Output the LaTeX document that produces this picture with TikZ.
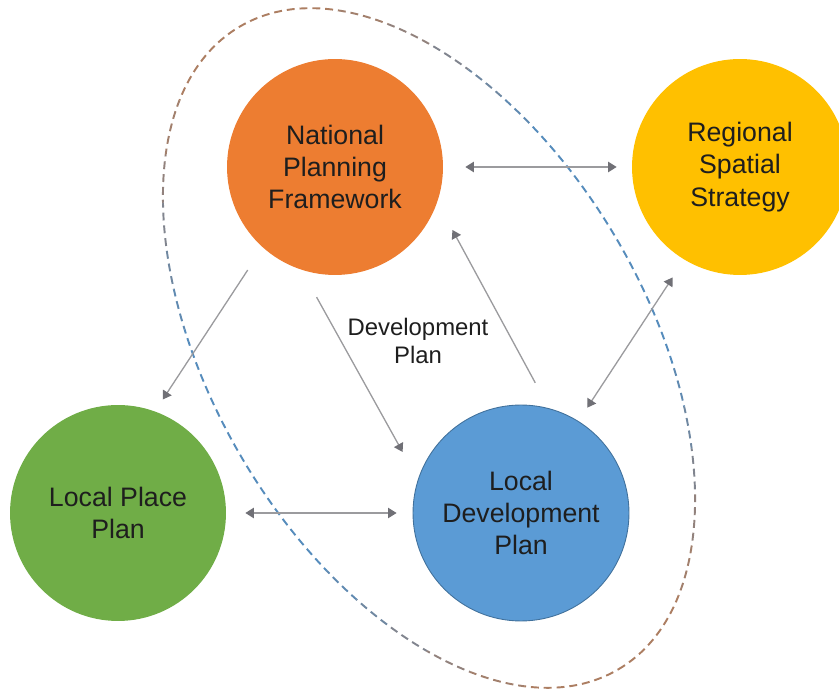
\documentclass[tikz,border=0pt]{standalone}
\usepackage{fontspec}
\setmainfont{Liberation Sans}
\usepackage{tikz}
\usetikzlibrary{arrows.meta, positioning}

\definecolor{npforange}{RGB}{237,125,49}
\definecolor{rssyellow}{RGB}{255,192,0}
\definecolor{lppgreen}{RGB}{112,173,71}
\definecolor{ldpblue}{RGB}{91,155,213}
\definecolor{ldpedge}{RGB}{65,113,156}
\definecolor{ringbrown}{RGB}{172,126,98}
\definecolor{ringblue}{RGB}{86,140,188}
\definecolor{linkgray}{RGB}{155,155,158}
\definecolor{tipgray}{RGB}{112,112,118}
\definecolor{plantext}{RGB}{30,30,30}

\begin{document}
\begin{tikzpicture}[x=0.02cm, y=0.02cm,
    plan/.style={circle, minimum size=4.32cm, inner sep=0pt, align=center, text=plantext, font=\fontsize{15.2}{18.3}\selectfont},
    link/.style={draw=linkgray, line width=0.75pt},
    ring/.style={line width=1.1pt, dash pattern=on 4.5pt off 2.8pt},
    >={Triangle[length=4.8pt, width=5.8pt, color=tipgray]}]

    \useasboundingbox (0,0) rectangle (839,690);

    % Dashed ring round the development plan, brown at the ends and blue in the middle
    \begin{scope}[shift={(429,342)}, rotate=-59.5]
        \foreach \xa/\xb/\pct in {-390/-340/0, -340/-300/12, -300/-260/30, -260/-220/50, -220/-180/70, -180/-140/88,
                                  -140/140/100, 140/180/88, 180/220/70, 220/260/50, 260/300/30, 300/340/12, 340/390/0} {
            \begin{scope}
                \clip (\xa,-260) rectangle (\xb,260);
                \draw[ring, draw=ringblue!\pct!ringbrown] (0,0) ellipse [x radius=373, y radius=217];
            \end{scope}
        }
    \end{scope}

    % Nodes for the four plans
    \node (npf) [plan, fill=npforange] at (335,523) {National\\Planning\\Framework};
    \node (rss) [plan, fill=rssyellow] at (740,523) {Regional\\Spatial\\Strategy};
    \node (lpp) [plan, fill=lppgreen] at (118,177) {Local Place\\Plan};
    \node (ldp) [plan, fill=ldpblue, draw=ldpedge, line width=0.5pt] at (521,177) {Local\\Development\\Plan};

    % Label between the arrows
    \node (devlabel) [align=center, text=plantext, font=\fontsize{13.6}{16.4}\selectfont] at (418,349) {Development\\Plan};

    % Draw arrows between the plans
    \draw[link, <->, shorten <=0.44cm, shorten >=0.30cm] (npf) -- (rss);
    \draw[link, <->, shorten <=0.38cm, shorten >=0.32cm] (lpp) -- (ldp);
    \draw[link, ->, shorten <=0.54cm, shorten >=0.28cm] (npf.228) -- (lpp.70);
    \draw[link, ->, shorten <=0.62cm, shorten >=0.63cm] (npf.252) -- (ldp.162);
    \draw[link, ->, shorten <=0.58cm, shorten >=0.63cm] (ldp.75) -- (npf.341);
    \draw[link, <->, shorten <=0.42cm, shorten >=0.32cm] (rss.239) -- (ldp.58);

\end{tikzpicture}
\end{document}
